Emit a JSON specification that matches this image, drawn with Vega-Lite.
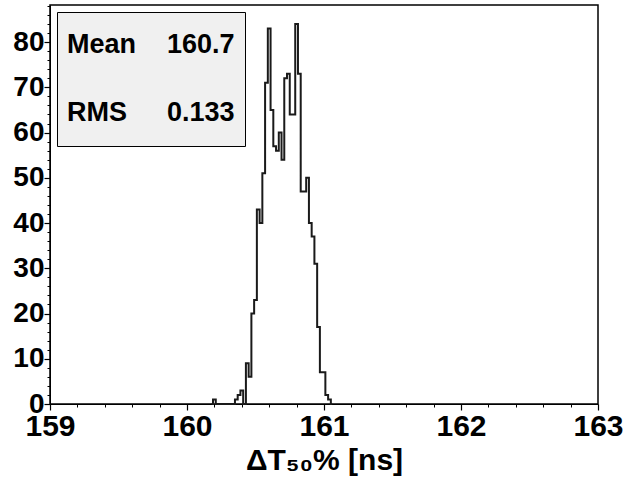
{
  "$schema": "https://vega.github.io/schema/vega-lite/v6.json",
  "width": 548,
  "height": 399,
  "autosize": {"type": "none"},
  "padding": {"left": 50, "top": 5, "right": 26, "bottom": 73},
  "background": "white",
  "config": {"font": "Liberation Sans", "view": {"stroke": "#000", "strokeWidth": 1.5}},
  "datasets": {
    "hist": [
      {"t": 160.18, "n": 0}, {"t": 160.20, "n": 1}, {"t": 160.22, "n": 0},
      {"t": 160.34, "n": 0}, {"t": 160.36, "n": 1}, {"t": 160.38, "n": 2}, {"t": 160.40, "n": 3},
      {"t": 160.42, "n": 0}, {"t": 160.44, "n": 9}, {"t": 160.46, "n": 6}, {"t": 160.48, "n": 20},
      {"t": 160.50, "n": 23}, {"t": 160.52, "n": 43}, {"t": 160.54, "n": 40}, {"t": 160.56, "n": 51},
      {"t": 160.58, "n": 71}, {"t": 160.60, "n": 83}, {"t": 160.62, "n": 65}, {"t": 160.64, "n": 57},
      {"t": 160.66, "n": 56}, {"t": 160.68, "n": 60}, {"t": 160.70, "n": 54}, {"t": 160.72, "n": 72},
      {"t": 160.74, "n": 73}, {"t": 160.76, "n": 64}, {"t": 160.78, "n": 64}, {"t": 160.80, "n": 84},
      {"t": 160.82, "n": 73}, {"t": 160.84, "n": 47}, {"t": 160.86, "n": 47}, {"t": 160.88, "n": 50},
      {"t": 160.90, "n": 40}, {"t": 160.92, "n": 37}, {"t": 160.94, "n": 31}, {"t": 160.96, "n": 17},
      {"t": 160.98, "n": 7}, {"t": 161.00, "n": 7}, {"t": 161.02, "n": 2}, {"t": 161.04, "n": 1},
      {"t": 161.06, "n": 0}
    ],
    "stats": [{"stat": "Mean"}, {"stat": "160.7"}, {"stat": "RMS"}, {"stat": "0.133"}]
  },
  "resolve": {"axis": {"x": "independent", "y": "independent"}},
  "layer": [
    {
      "data": {"name": "hist"},
      "mark": {"type": "line", "interpolate": "step", "color": "#1a1a1a", "strokeWidth": 2},
      "encoding": {
        "x": {
          "field": "t", "type": "quantitative",
          "scale": {"domain": [159, 163], "nice": false, "zero": false},
          "axis": {
            "orient": "bottom",
            "values": [159, 160, 161, 162, 163],
            "format": "d",
            "tickSize": 6, "tickColor": "black", "tickWidth": 1.2,
            "labelPadding": 1,
            "labelFontSize": 30, "labelFontWeight": "bold", "labelColor": "#000",
            "labelOverlap": false, "labelBound": false, "labelFlush": false,
            "domainColor": "#000", "grid": false,
            "title": "ΔT₅₀% [ns]", "titleFontSize": 30, "titleFontWeight": "bold", "titleColor": "#000", "titlePadding": 4
          }
        },
        "y": {
          "field": "n", "type": "quantitative",
          "scale": {"domain": [0, 88.2], "nice": false},
          "axis": {
            "orient": "left",
            "values": [0, 10, 20, 30, 40, 50, 60, 70, 80],
            "tickSize": 6, "tickColor": "black", "tickWidth": 1.2,
            "labelPadding": 0,
            "labelFontSize": 28, "labelFontWeight": "bold", "labelColor": "#000",
            "labelOverlap": false, "labelBound": false, "labelFlush": false,
            "domainColor": "#000", "grid": false,
            "title": null
          }
        }
      }
    },
    {
      "data": {"name": "hist"},
      "mark": {"type": "line", "opacity": 0},
      "encoding": {
        "x": {
          "field": "t", "type": "quantitative",
          "axis": {
            "orient": "bottom",
            "values": [159.2, 159.4, 159.6, 159.8, 160.2, 160.4, 160.6, 160.8, 161.2, 161.4, 161.6, 161.8, 162.2, 162.4, 162.6, 162.8],
            "tickSize": 3, "tickColor": "black", "tickWidth": 1,
            "labels": false, "domain": false, "grid": false, "title": null
          }
        },
        "y": {
          "field": "n", "type": "quantitative",
          "axis": {
            "orient": "left",
            "values": [2,4,6,8,12,14,16,18,22,24,26,28,32,34,36,38,42,44,46,48,52,54,56,58,62,64,66,68,72,74,76,78,82,84,86,88],
            "tickSize": 3, "tickColor": "black", "tickWidth": 1,
            "labels": false, "domain": false, "grid": false, "title": null
          }
        }
      }
    },
    {
      "data": {"name": "stats"},
      "mark": {"type": "point", "opacity": 0},
      "encoding": {
        "color": {
          "field": "stat", "type": "nominal",
          "scale": {"domain": ["Mean", "RMS", "160.7", "0.133"], "range": ["#000", "#000", "#000", "#000"]},
          "legend": {
            "title": null, "orient": "top-left", "offset": 7, "columns": 2,
            "columnPadding": 30, "rowPadding": 22, "padding": 10,
            "fillColor": "#f0f0f0", "strokeColor": "#000",
            "labelFontSize": 27, "labelFontWeight": "bold", "labelColor": "#000",
            "symbolType": "M0,-1L0,1", "symbolSize": 2116, "symbolOpacity": 0, "symbolStrokeWidth": 0,
            "labelOffset": -46
          }
        }
      }
    }
  ]
}
